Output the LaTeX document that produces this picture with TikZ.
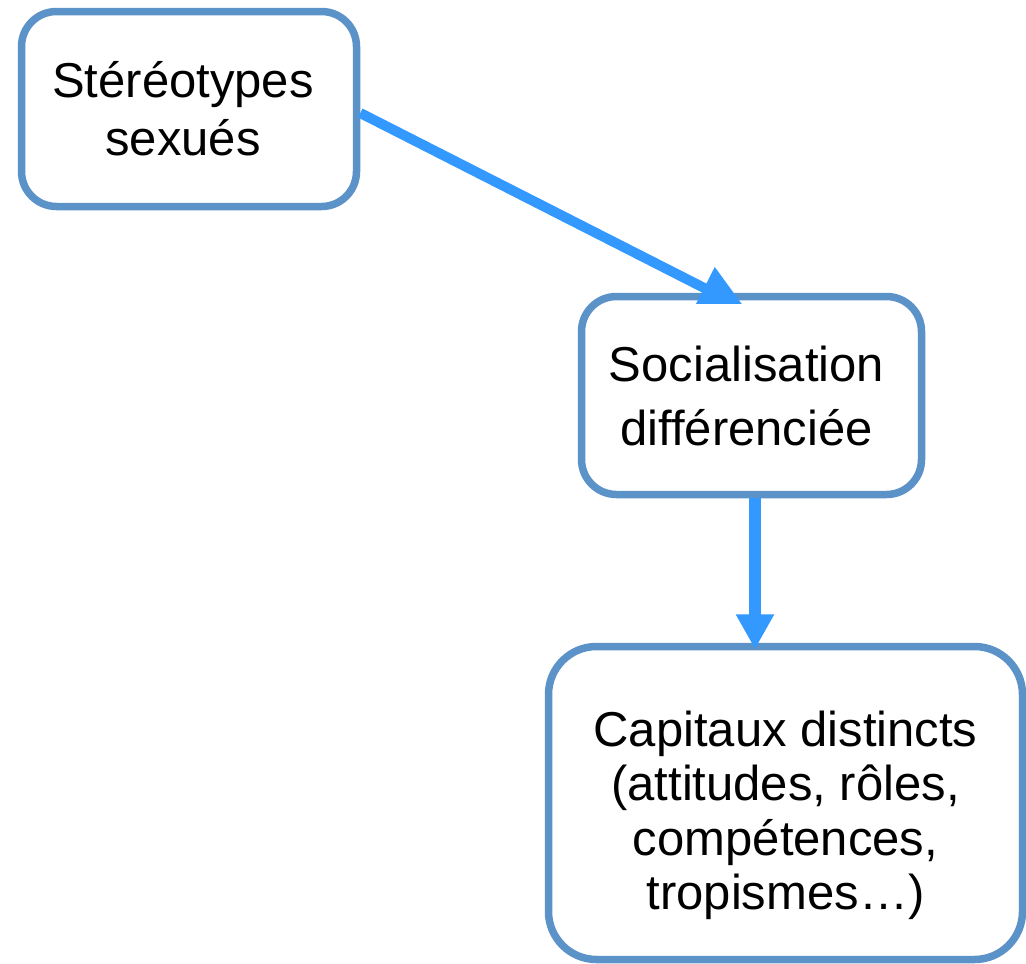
\documentclass[tikz,border=0pt]{standalone}
\usepackage{fontspec}
\setmainfont{Liberation Sans}
\usetikzlibrary{arrows.meta,shadows,calc}
\definecolor{boxblue}{RGB}{91,147,201}
\definecolor{arrowblue}{RGB}{51,153,255}
\newcommand{\padR}[1]{\hbox to #1{}}
\tikzset{
  box/.style={draw=boxblue, line width=7.5pt, fill=white, rectangle,
    rounded corners=#1, align=center, inner sep=0pt,
    drop shadow={opacity=0.3, shadow xshift=2pt, shadow yshift=-3pt}},
  box/.default=35pt,
  conn/.style={draw=arrowblue, line width=#1},
}
\begin{document}
\begin{tikzpicture}[x=1pt,y=-1pt]
\useasboundingbox (0,0) rectangle (1026,964);
\node[box, minimum width=335pt, minimum height=195pt,
      font=\fontsize{49}{58}\selectfont] (s) at (189,109)
  {Stéréotypes\padR{12pt}\\sexués\padR{12pt}};
\node[box, minimum width=340pt, minimum height=198pt,
      font=\fontsize{49}{64}\selectfont] (d) at (751.5,395.5)
  {Socialisation\padR{10pt}\\différenciée\padR{10pt}};
\node[box=48pt, minimum width=474pt, minimum height=313pt,
      font=\fontsize{49}{54.5}\selectfont] (c) at (785.5,803)
  {\rule{0pt}{60pt}Capitaux distincts\\(attitudes, rôles,\\compétences,\\tropismes…)};
\begin{scope}
  \clip (0,0) rectangle (1026,303);
  \draw[conn=10pt, -{Triangle[length=47pt,width=44pt]}]
    ($(s.east)+(0,4)$) -- ($(d.north)+(-5.5,16.5)$);
\end{scope}
\draw[conn=12pt, -{Triangle[length=35pt,width=36pt]}]
  ($(d.south)+(3.5,0)$) -- ($(c.north)+(-30.5,6.5)$);
\end{tikzpicture}
\end{document}
